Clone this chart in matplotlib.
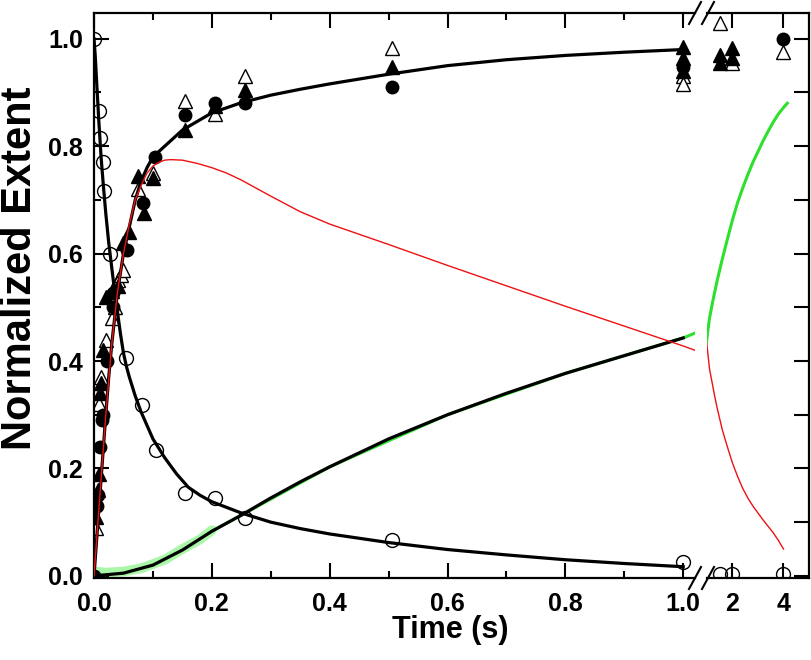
import matplotlib.pyplot as plt
from matplotlib.ticker import MultipleLocator, FixedLocator

plt.rcParams['font.family'] = ['Liberation Sans', 'DejaVu Sans']
plt.rcParams['font.weight'] = 'bold'

# open circles (decay of reactant)
t_open = [0, 0.008, 0.011, 0.0145, 0.017, 0.027, 0.055, 0.082, 0.106, 0.155, 0.205, 0.256, 0.506, 1.0, 1.5, 2.0, 4.0]
v_open = [1.0, 0.865, 0.815, 0.77, 0.717, 0.60, 0.405, 0.318, 0.235, 0.155, 0.145, 0.108, 0.067, 0.026, 0.004, 0.004, 0.004]

# filled circles, filled triangles, open triangles (product)
t_fcirc = [0.0, 0.005, 0.007, 0.01, 0.013, 0.016, 0.022, 0.033, 0.033, 0.056, 0.083, 0.104, 0.155, 0.205, 0.256, 0.506, 1.0, 4.0]
v_fcirc = [0.0, 0.13, 0.15, 0.24, 0.29, 0.30, 0.40, 0.50, 0.527, 0.607, 0.695, 0.78, 0.858, 0.88, 0.88, 0.91, 0.948, 1.0]

t_ftri = [0.0, 0.004, 0.006, 0.008, 0.01, 0.012, 0.016, 0.02, 0.03, 0.04, 0.05, 0.06, 0.075, 0.085, 0.1, 0.155, 0.205, 0.256, 0.506, 1.0, 1.0, 1.0, 1.5, 1.5, 2.0, 2.0]
v_ftri = [0.0, 0.11, 0.16, 0.19, 0.34, 0.36, 0.42, 0.52, 0.53, 0.54, 0.62, 0.64, 0.745, 0.675, 0.74, 0.83, 0.875, 0.905, 0.948, 0.985, 0.965, 0.94, 0.97, 0.955, 0.983, 0.965]

t_otri = [0.004, 0.008, 0.012, 0.02, 0.03, 0.035, 0.04, 0.045, 0.05, 0.075, 0.1, 0.155, 0.205, 0.256, 0.506, 1.0, 1.0, 1.5, 2.0, 4.0]
v_otri = [0.09, 0.32, 0.37, 0.44, 0.48, 0.50, 0.55, 0.56, 0.57, 0.72, 0.75, 0.885, 0.86, 0.93, 0.983, 0.93, 0.915, 1.03, 0.955, 0.976]

# fitted curves (black)
t_fit_dec = [0, 0.002, 0.005, 0.008, 0.01, 0.012, 0.016, 0.02, 0.025, 0.03, 0.035, 0.04, 0.045, 0.05, 0.055, 0.06, 0.07, 0.08, 0.09, 0.1, 0.12, 0.14, 0.16, 0.18, 0.2, 0.25, 0.3, 0.35, 0.4, 0.5, 0.6, 0.7, 0.8, 0.9, 1.0]
v_fit_dec = [1.0, 0.97, 0.91, 0.85, 0.815, 0.78, 0.725, 0.675, 0.62, 0.575, 0.53, 0.49, 0.45, 0.415, 0.39, 0.37, 0.335, 0.305, 0.28, 0.255, 0.22, 0.19, 0.165, 0.15, 0.138, 0.117, 0.1, 0.088, 0.078, 0.062, 0.049, 0.039, 0.03, 0.023, 0.017]

t_fit_prod = [0, 0.005, 0.01, 0.015, 0.02, 0.025, 0.03, 0.04, 0.05, 0.06, 0.07, 0.08, 0.09, 0.1, 0.12, 0.15, 0.2, 0.25, 0.3, 0.35, 0.4, 0.45, 0.5, 0.6, 0.7, 0.8, 0.9, 1.0]
v_fit_prod = [0, 0.075, 0.15, 0.225, 0.30, 0.37, 0.43, 0.53, 0.60, 0.65, 0.70, 0.735, 0.76, 0.78, 0.80, 0.83, 0.862, 0.881, 0.895, 0.906, 0.916, 0.925, 0.934, 0.95, 0.961, 0.969, 0.975, 0.98]

t_fit_grn = [0, 0.05, 0.1, 0.15, 0.2, 0.25, 0.3, 0.35, 0.4, 0.5, 0.6, 0.7, 0.8, 0.9, 1.0]
v_fit_grn = [0.0, 0.005, 0.02, 0.048, 0.083, 0.113, 0.145, 0.175, 0.203, 0.255, 0.30, 0.34, 0.377, 0.41, 0.443]

# red trace (intermediate)
t_red = [0, 0.01, 0.02, 0.03, 0.04, 0.05, 0.06, 0.07, 0.08, 0.09, 0.1, 0.11, 0.12, 0.13, 0.15, 0.175, 0.2, 0.225, 0.25, 0.3, 0.35, 0.4, 0.5, 0.6, 0.7, 0.8, 0.9, 1.0, 1.02,
         1.1, 1.2, 1.3, 1.4, 1.5, 1.6, 1.8, 2.0, 2.2, 2.4, 2.6, 2.8, 3.0, 3.2, 3.4, 3.6, 3.8, 4.0]
v_red = [0, 0.15, 0.30, 0.43, 0.53, 0.60, 0.655, 0.70, 0.727, 0.75, 0.763, 0.77, 0.774, 0.775, 0.774, 0.768, 0.76, 0.75, 0.737, 0.707, 0.678, 0.655, 0.617, 0.578, 0.54, 0.502, 0.465, 0.428, 0.42,
         0.385, 0.36, 0.335, 0.312, 0.292, 0.272, 0.24, 0.21, 0.185, 0.163, 0.145, 0.13, 0.117, 0.104, 0.092, 0.08, 0.066, 0.05]

# green trace (final product, measured)
t_grn = [0, 0.02, 0.05, 0.08, 0.1, 0.12, 0.15, 0.18, 0.2]
v_grn = [0.008, 0.006, 0.008, 0.014, 0.022, 0.03, 0.05, 0.068, 0.085]
t_grn2 = [0.2, 0.4, 0.6, 0.8, 1.0, 1.02,
          1.1, 1.2, 1.3, 1.4, 1.6, 1.8, 2.0, 2.2, 2.4, 2.6, 2.8, 3.0, 3.2, 3.4, 3.6, 3.8, 4.0, 4.15]
v_grn2 = [0.083, 0.203, 0.30, 0.377, 0.443, 0.452,
          0.48, 0.505, 0.528, 0.55, 0.59, 0.627, 0.663, 0.695, 0.722, 0.747, 0.77, 0.79, 0.81, 0.828, 0.845, 0.86, 0.872, 0.88]


def part(t, v, lo, hi):
    pts = [(a, b) for a, b in zip(t, v) if lo <= a <= hi]
    return [p[0] for p in pts], [p[1] for p in pts]


fig = plt.figure(figsize=(8.12, 6.6), dpi=100)
W, H = 812, 660
bot, top = 1 - 578 / H, 1 - 13 / H
ax1 = fig.add_axes([94 / W, bot, (695 - 94) / W, top - bot])
ax2 = fig.add_axes([707 / W, bot, (809 - 707) / W, top - bot])

for ax, lo, hi in ((ax1, 0, 1.02), (ax2, 1.2, 5)):
    ax.plot(t_grn, v_grn, color='#44ee44', lw=7, alpha=0.45, solid_capstyle='round', zorder=1)
    ax.plot(t_grn2, v_grn2, color='#2ee02e', lw=2.2, zorder=1)
    ax.plot(*part(t_otri, v_otri, lo, hi), ls='none', marker='^', ms=10, mfc='white', mec='black', mew=1.0, zorder=2)
    ax.plot(*part(t_ftri, v_ftri, lo, hi), ls='none', marker='^', ms=10, mfc='black', mec='black', zorder=3)
    ax.plot(*part(t_fcirc, v_fcirc, lo, hi), ls='none', marker='o', ms=9, mfc='black', mec='black', zorder=3)
    ax.plot(*part(t_open, v_open, lo, hi), ls='none', marker='o', ms=10, mfc='none', mec='black', mew=1.0, zorder=4)
    ax.plot(t_red, v_red, color='#ee1111', lw=1.0, zorder=6)
    ax.set_ylim(-0.004, 1.048)
    for s in ax.spines.values():
        s.set_linewidth(1.6)

ax1.plot(t_fit_dec, v_fit_dec, color='black', lw=2.3, zorder=5)
ax1.plot(t_fit_prod, v_fit_prod, color='black', lw=2.3, zorder=5)
ax1.plot(t_fit_grn, v_fit_grn, color='black', lw=2.3, zorder=5)

ax1.set_xlim(0, 1.02)
ax2.set_xlim(1.0, 5.0)
ax1.spines['right'].set_visible(False)
ax2.spines['left'].set_visible(False)

ax1.xaxis.set_major_locator(FixedLocator([0, 0.2, 0.4, 0.6, 0.8, 1.0]))
ax1.xaxis.set_minor_locator(FixedLocator([0.1, 0.3, 0.5, 0.7, 0.9]))
ax1.set_xticklabels(['0.0', '0.2', '0.4', '0.6', '0.8', '1.0'])
ax1.yaxis.set_minor_locator(MultipleLocator(0.1))
ax1.set_yticks([0, 0.2, 0.4, 0.6, 0.8, 1.0])
ax1.set_yticklabels(['0.0', '0.2', '0.4', '0.6', '0.8', '1.0'])
ax1.tick_params(which='both', direction='in', top=True, width=1.5, labelsize=18)
ax1.tick_params(which='major', length=11)
ax1.tick_params(which='minor', length=5)
ax1.tick_params(axis='x', pad=10)
ax1.tick_params(axis='y', pad=8)

ax2.xaxis.set_major_locator(FixedLocator([2, 4]))
ax2.set_xticklabels(['2', '4'])
ax2.yaxis.set_major_locator(MultipleLocator(0.1))
ax2.tick_params(which='both', direction='in', top=True, left=False, right=True, labelleft=False,
                width=1.5, length=11, labelsize=18)
ax2.tick_params(axis='x', pad=10)

# axis break marks
for x0 in (695, 708):
    for y0 in (578, 13):
        fig.add_artist(plt.Line2D([(x0 - 6) / W, (x0 + 6) / W], [1 - (y0 + 11) / H, 1 - (y0 - 11) / H],
                                  transform=fig.transFigure, color='black', lw=1.5))

fig.text(450 / W, 1 - 630 / H, 'Time (s)', ha='center', va='center', fontsize=22, fontweight='bold')
fig.text(20 / W, 1 - 268 / H, 'Normalized Extent', ha='center', va='center', rotation=90,
         fontsize=30, fontweight='bold')

fig.savefig('out.png', dpi=100)
